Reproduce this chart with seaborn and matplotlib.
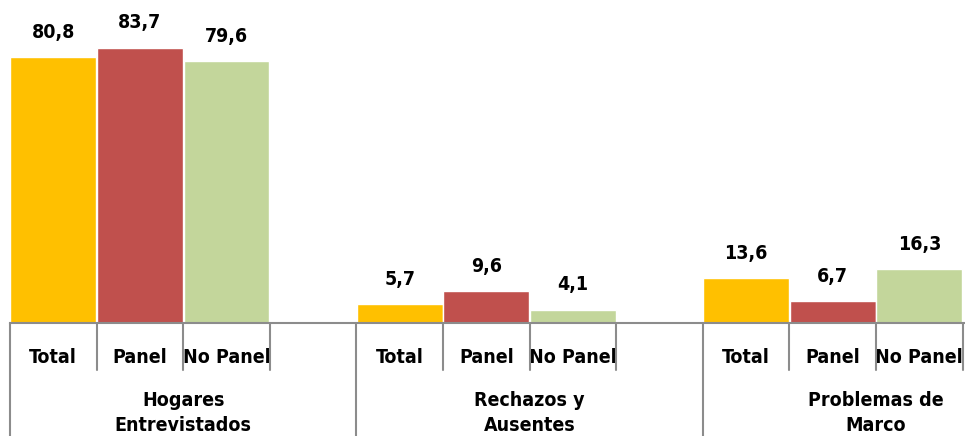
import matplotlib
matplotlib.use("Agg")
import matplotlib.pyplot as plt
import matplotlib.transforms as mtransforms
import pandas as pd
import seaborn as sns

groups = ["Hogares\nEntrevistados", "Rechazos y\nAusentes", "Problemas de\nMarco"]
series = ["Total", "Panel", "No Panel"]
total = [80.8, 5.7, 13.6]
panel = [83.7, 9.6, 6.7]
no_panel = [79.6, 4.1, 16.3]
colors = {"Total": "#FFC000", "Panel": "#C0504D", "No Panel": "#C3D69B"}

rows = []
for g, vals in enumerate(zip(total, panel, no_panel)):
    for s, (name, v) in enumerate(zip(series, vals)):
        rows.append({"pos": g * 4 + s, "series": name, "value": v, "group": groups[g]})
df = pd.DataFrame(rows)

sns.set_style("white")
plt.rcParams["font.family"] = ["DejaVu Sans"]
plt.rcParams["font.stretch"] = "condensed"
plt.rcParams["font.weight"] = "bold"
plt.rcParams["text.color"] = "black"
plt.rcParams["xtick.color"] = "black"

FS = 14

fig = plt.figure(figsize=(9.65, 4.36), dpi=100)
ax = fig.add_axes([10 / 965, 113 / 436, 955 / 965, 323 / 436])

sns.barplot(data=df, x="pos", y="value", hue="series", palette=colors,
            dodge=False, native_scale=True, width=0.99, legend=False, saturation=1,
            edgecolor="white", linewidth=1, ax=ax)

ax.set_xlim(-0.5, -0.5 + 955 / 86.6)
ax.set_ylim(0, 98.2)
for sp in ["top", "right", "left"]:
    ax.spines[sp].set_visible(False)
ax.spines["bottom"].set_color("#8c8c8c")
ax.spines["bottom"].set_linewidth(1.5)
ax.set_yticks([])
ax.set_xlabel("")
ax.set_ylabel("")

ax.set_xticks(df["pos"])
ax.set_xticklabels(df["series"], fontsize=FS, fontweight="bold", color="black")
ax.tick_params(axis="x", length=0, pad=18)

# value labels
for _, r in df.iterrows():
    ax.annotate(f"{r['value']:.1f}".replace(".", ","), (r["pos"], r["value"]),
                xytext=(0, 11), textcoords="offset points", ha="center", va="bottom",
                fontsize=FS, fontweight="bold", color="black")

# separators below the axis
trans = mtransforms.blended_transform_factory(ax.transData, ax.transAxes)
for k in range(13):
    x = k - 0.5
    bottom = -0.36 if k % 4 == 0 else -0.146
    ax.plot([x, x], [0, bottom], color="#8c8c8c", lw=1.5, transform=trans, clip_on=False)

# group labels
for g, name in enumerate(groups):
    ax.text(g * 4 + 1.5, -0.278, name, transform=trans, ha="center", va="center",
            fontsize=FS, fontweight="bold", linespacing=1.4, color="black")

fig.savefig("out.png", dpi=100)
